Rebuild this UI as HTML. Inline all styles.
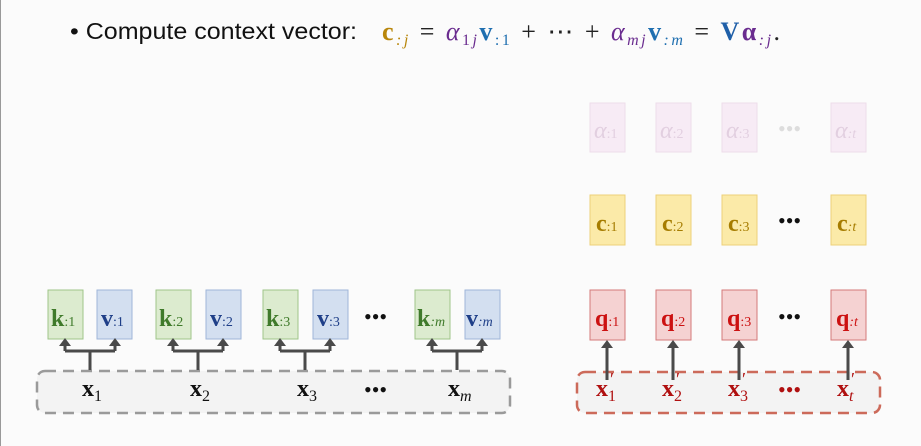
<!DOCTYPE html>
<html><head><meta charset="utf-8"><style>
html,body{margin:0;padding:0;background:#fbfbfb;}
body{width:921px;height:446px;overflow:hidden;position:relative;}
svg{position:absolute;left:0;top:0;}
text{font-family:"Liberation Serif",serif;}
.b{font-weight:bold;}
</style></head><body>
<svg width="921" height="446" viewBox="0 0 921 446" xmlns="http://www.w3.org/2000/svg">
<line x1="0.5" y1="0" x2="0.5" y2="446" stroke="#999" stroke-width="1"/>
<!-- title -->
<text x="70" y="39" style="font-family:'Liberation Sans',sans-serif" font-size="23" fill="#111" textLength="287" lengthAdjust="spacingAndGlyphs">• Compute context vector:</text>
<text x="382" y="40" font-size="26" textLength="398" lengthAdjust="spacing">
<tspan class="b" fill="#b8860b">c</tspan><tspan font-size="16" font-style="italic" fill="#b8860b" dy="5">:j</tspan>
<tspan dy="-5" fill="#222"> = </tspan><tspan font-style="italic" fill="#6a2c8f">α</tspan><tspan font-size="16" fill="#6a2c8f" dy="5">1</tspan><tspan font-size="16" font-style="italic" fill="#6a2c8f">j</tspan><tspan dy="-5" class="b" fill="#1f6fb0">v</tspan><tspan font-size="16" fill="#1f6fb0" dy="5">:1</tspan>
<tspan dy="-5" fill="#222"> + ⋯ + </tspan><tspan font-style="italic" fill="#6a2c8f">α</tspan><tspan font-size="16" font-style="italic" fill="#6a2c8f" dy="5">mj</tspan><tspan dy="-5" class="b" fill="#1f6fb0">v</tspan><tspan font-size="16" font-style="italic" fill="#1f6fb0" dy="5">:m</tspan>
<tspan dy="-5" fill="#222"> = </tspan><tspan class="b" fill="#1f5fa8">V</tspan><tspan class="b" fill="#6a2c8f">α</tspan><tspan font-size="16" font-style="italic" fill="#6a2c8f" dy="5">:j</tspan><tspan dy="-5" fill="#222">.</tspan>
</text>

<rect x="37" y="371" width="473" height="42" rx="8" fill="#f3f3f3" stroke="#9a9a9a" stroke-width="2.5" stroke-dasharray="11,7"/>
<rect x="577" y="372" width="303" height="41" rx="8" fill="#f3f3f3" stroke="#cc6a5a" stroke-width="2.5" stroke-dasharray="11,7"/>

<g stroke-width="1">
<rect x="48" y="290" width="35" height="49" fill="#dcebcf" stroke="#9fc58a"/>
<rect x="97" y="290" width="35" height="49" fill="#d3dff0" stroke="#9fb5d8"/>
<rect x="156" y="290" width="35" height="49" fill="#dcebcf" stroke="#9fc58a"/>
<rect x="206" y="290" width="35" height="49" fill="#d3dff0" stroke="#9fb5d8"/>
<rect x="263" y="290" width="35" height="49" fill="#dcebcf" stroke="#9fc58a"/>
<rect x="313" y="290" width="35" height="49" fill="#d3dff0" stroke="#9fb5d8"/>
<rect x="415" y="290" width="35" height="49" fill="#dcebcf" stroke="#9fc58a"/>
<rect x="465" y="290" width="35" height="49" fill="#d3dff0" stroke="#9fb5d8"/>
</g>
<g font-size="24">
<text x="51" y="326" class="b" fill="#3f7a2a">k<tspan font-size="14" font-weight="normal">:1</tspan></text>
<text x="101" y="326" class="b" fill="#1f3f88">v<tspan font-size="14" font-weight="normal">:1</tspan></text>
<text x="159" y="326" class="b" fill="#3f7a2a">k<tspan font-size="14" font-weight="normal">:2</tspan></text>
<text x="210" y="326" class="b" fill="#1f3f88">v<tspan font-size="14" font-weight="normal">:2</tspan></text>
<text x="266" y="326" class="b" fill="#3f7a2a">k<tspan font-size="14" font-weight="normal">:3</tspan></text>
<text x="317" y="326" class="b" fill="#1f3f88">v<tspan font-size="14" font-weight="normal">:3</tspan></text>
<text x="417" y="326" class="b" fill="#3f7a2a">k<tspan font-size="14" font-weight="normal" font-style="italic">:m</tspan></text>
<text x="466" y="326" class="b" fill="#1f3f88">v<tspan font-size="14" font-weight="normal" font-style="italic">:m</tspan></text>
<text x="364" y="324" font-size="22" fill="#111">•••</text>
</g>

<g stroke="#4a4a4a" stroke-width="3" fill="none">
<path d="M90,370 V351 M65,351 H115 M65,351 V343 M115,351 V343"/>
<path d="M198,370 V351 M173,351 H223 M173,351 V343 M223,351 V343"/>
<path d="M305,370 V351 M280,351 H330 M280,351 V343 M330,351 V343"/>
<path d="M457,370 V351 M432,351 H482 M432,351 V343 M482,351 V343"/>
</g>
<g fill="#4a4a4a">
<path d="M59,346 L65,338 L71,346Z"/><path d="M109,346 L115,338 L121,346Z"/>
<path d="M167,346 L173,338 L179,346Z"/><path d="M217,346 L223,338 L229,346Z"/>
<path d="M274,346 L280,338 L286,346Z"/><path d="M324,346 L330,338 L336,346Z"/>
<path d="M426,346 L432,338 L438,346Z"/><path d="M476,346 L482,338 L488,346Z"/>
</g>
<g font-size="24" fill="#111">
<text x="82" y="396" class="b">x<tspan font-size="16" font-weight="normal" dy="5">1</tspan></text>
<text x="190" y="396" class="b">x<tspan font-size="16" font-weight="normal" dy="5">2</tspan></text>
<text x="297" y="396" class="b">x<tspan font-size="16" font-weight="normal" dy="5">3</tspan></text>
<text x="364" y="397" font-size="22">•••</text>
<text x="448" y="396" class="b">x<tspan font-size="16" font-weight="normal" font-style="italic" dy="5">m</tspan></text>
</g>

<g fill="#f7ebf5" stroke="#eddcea">
<rect x="590" y="103" width="35" height="49"/>
<rect x="656" y="103" width="35" height="49"/>
<rect x="722" y="103" width="35" height="49"/>
<rect x="831" y="103" width="35" height="49"/>
</g>
<g font-size="24" fill="#e2cfe0" font-style="italic">
<text x="594" y="138">α<tspan font-size="14" font-style="normal">:1</tspan></text>
<text x="660" y="138">α<tspan font-size="14" font-style="normal">:2</tspan></text>
<text x="726" y="138">α<tspan font-size="14" font-style="normal">:3</tspan></text>
<text x="835" y="138">α<tspan font-size="14">:t</tspan></text>
<text x="778" y="136" font-size="22" font-style="normal" fill="#ddd">•••</text>
</g>

<g fill="#fbeaa8" stroke="#ecd07a">
<rect x="590" y="195" width="35" height="50"/>
<rect x="656" y="195" width="35" height="50"/>
<rect x="722" y="195" width="35" height="50"/>
<rect x="831" y="195" width="35" height="50"/>
</g>
<g font-size="24" fill="#a67c00">
<text x="596" y="231" class="b">c<tspan font-size="14" font-weight="normal">:1</tspan></text>
<text x="662" y="231" class="b">c<tspan font-size="14" font-weight="normal">:2</tspan></text>
<text x="728" y="231" class="b">c<tspan font-size="14" font-weight="normal">:3</tspan></text>
<text x="837" y="231" class="b">c<tspan font-size="14" font-weight="normal" font-style="italic">:t</tspan></text>
<text x="778" y="228" font-size="22" fill="#111">•••</text>
</g>

<g fill="#f5d2d2" stroke="#d47a7a">
<rect x="590" y="290" width="35" height="50"/>
<rect x="656" y="290" width="35" height="50"/>
<rect x="722" y="290" width="35" height="50"/>
<rect x="831" y="290" width="35" height="50"/>
</g>
<g font-size="24" fill="#cc1111">
<text x="595" y="326" class="b">q<tspan font-size="14" font-weight="normal">:1</tspan></text>
<text x="661" y="326" class="b">q<tspan font-size="14" font-weight="normal">:2</tspan></text>
<text x="727" y="326" class="b">q<tspan font-size="14" font-weight="normal">:3</tspan></text>
<text x="836" y="326" class="b">q<tspan font-size="14" font-weight="normal" font-style="italic">:t</tspan></text>
<text x="778" y="324" font-size="22" fill="#111">•••</text>
</g>
<g stroke="#4a4a4a" stroke-width="3">
<line x1="607" y1="380" x2="607" y2="346"/><line x1="673" y1="380" x2="673" y2="346"/>
<line x1="739" y1="380" x2="739" y2="346"/><line x1="848" y1="380" x2="848" y2="346"/>
</g>
<g fill="#4a4a4a">
<path d="M601,348 L607,340 L613,348Z"/><path d="M667,348 L673,340 L679,348Z"/>
<path d="M733,348 L739,340 L745,348Z"/><path d="M842,348 L848,340 L854,348Z"/>
</g>
<g font-size="24" fill="#b01010">
<text x="596" y="396" class="b">x<tspan font-size="16" font-weight="normal" dy="5">1</tspan></text>
<text x="662" y="396" class="b">x<tspan font-size="16" font-weight="normal" dy="5">2</tspan></text>
<text x="728" y="396" class="b">x<tspan font-size="16" font-weight="normal" dy="5">3</tspan></text>
<text x="837" y="396" class="b">x<tspan font-size="16" font-weight="normal" font-style="italic" dy="5">t</tspan></text>
<text x="610" y="385" font-size="18">′</text>
<text x="676" y="385" font-size="18">′</text>
<text x="742" y="385" font-size="18">′</text>
<text x="851" y="385" font-size="18">′</text>
<text x="778" y="397" font-size="22">•••</text>
</g>
</svg>
</body></html>
